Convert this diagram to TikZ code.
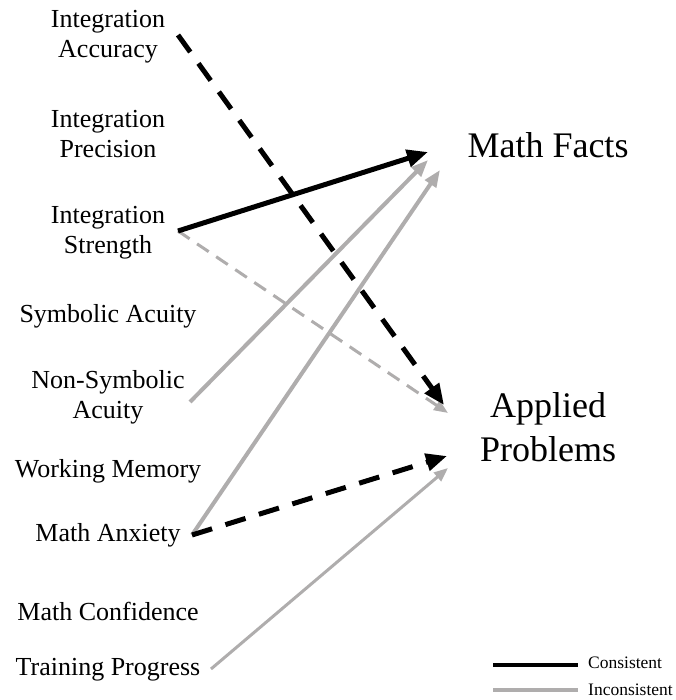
\documentclass[tikz,border=0pt]{standalone}
\usepackage{fontspec}
\setmainfont{Liberation Serif}
\usetikzlibrary{arrows.meta}
\definecolor{lgray}{RGB}{175,173,173}
\begin{document}
\begin{tikzpicture}[x=1pt,y=1pt,
  lab/.style={align=center,font=\fontsize{26}{30}\selectfont,inner sep=0pt},
  big/.style={align=center,font=\fontsize{36}{44}\selectfont,inner sep=0pt},
  leg/.style={anchor=west,font=\fontsize{17.5}{20}\selectfont,inner sep=0pt},
  blk/.style={line width=5pt,black,-{Triangle[length=21pt,width=17pt]}},
  blkdash/.style={blk,dash pattern=on 21pt off 14pt},
  gry/.style={line width=4pt,lgray,-{Triangle[length=17pt,width=13pt]}},
  grydash/.style={line width=3pt,lgray,dash pattern=on 14pt off 9pt,-{Triangle[length=14pt,width=11pt]}},
  grythin/.style={line width=3pt,lgray,-{Triangle[length=14pt,width=11pt]}}]
\useasboundingbox (0,0) rectangle (675,700);
% labels
\node[lab] (ia) at (108,663) {Integration\\Accuracy};
\node[lab] (ip) at (108,566) {Integration\\Precision};
\node[lab] (is) at (108,467) {Integration\\Strength};
\node[lab] (sa) at (108,384) {Symbolic Acuity};
\node[lab] (nsa) at (108,303) {Non-Symbolic\\Acuity};
\node[lab] (wm) at (108,229) {Working Memory};
\node[lab] (ma) at (108,165) {Math Anxiety};
\node[lab] (mc) at (108,89) {Math Confidence};
\node[lab] (tp) at (108,30) {Training Progress};
\node[big] (mf) at (548,555) {Math Facts};
\node[big] (ap) at (548,273) {Applied\\Problems};
% connector ends
\coordinate (iaS) at (178,665);
\coordinate (isS) at (178,469);
\coordinate (nsaS) at (190,298);
\coordinate (maS) at (192,165);
\coordinate (tpS) at (211,31);
\coordinate (mfA) at (428,548);
\coordinate (mfB) at (428,540);
\coordinate (mfC) at (440,530);
\coordinate (apA) at (444,295);
\coordinate (apB) at (448,287);
\coordinate (apC) at (447,244);
\coordinate (apD) at (448,232);
% arrows
\draw[grydash] (isS) -- (apB);
\draw[gry] (nsaS) -- (mfB);
\draw[gry] (maS) -- (mfC);
\draw[grythin] (tpS) -- (apD);
\draw[blkdash] (iaS) -- (apA);
\draw[blk] (isS) -- (mfA);
\draw[blkdash] (maS) -- (apC);
% legend
\coordinate (l1a) at (493,35);
\coordinate (l1b) at (578,35);
\coordinate (l2a) at (493,10);
\coordinate (l2b) at (578,10);
\draw[line width=4pt,black] (l1a) -- (l1b);
\draw[line width=4pt,lgray] (l2a) -- (l2b);
\node[leg] (c1) at (588,37) {Consistent};
\node[leg] (c2) at (588,10) {Inconsistent};
\end{tikzpicture}
\end{document}
